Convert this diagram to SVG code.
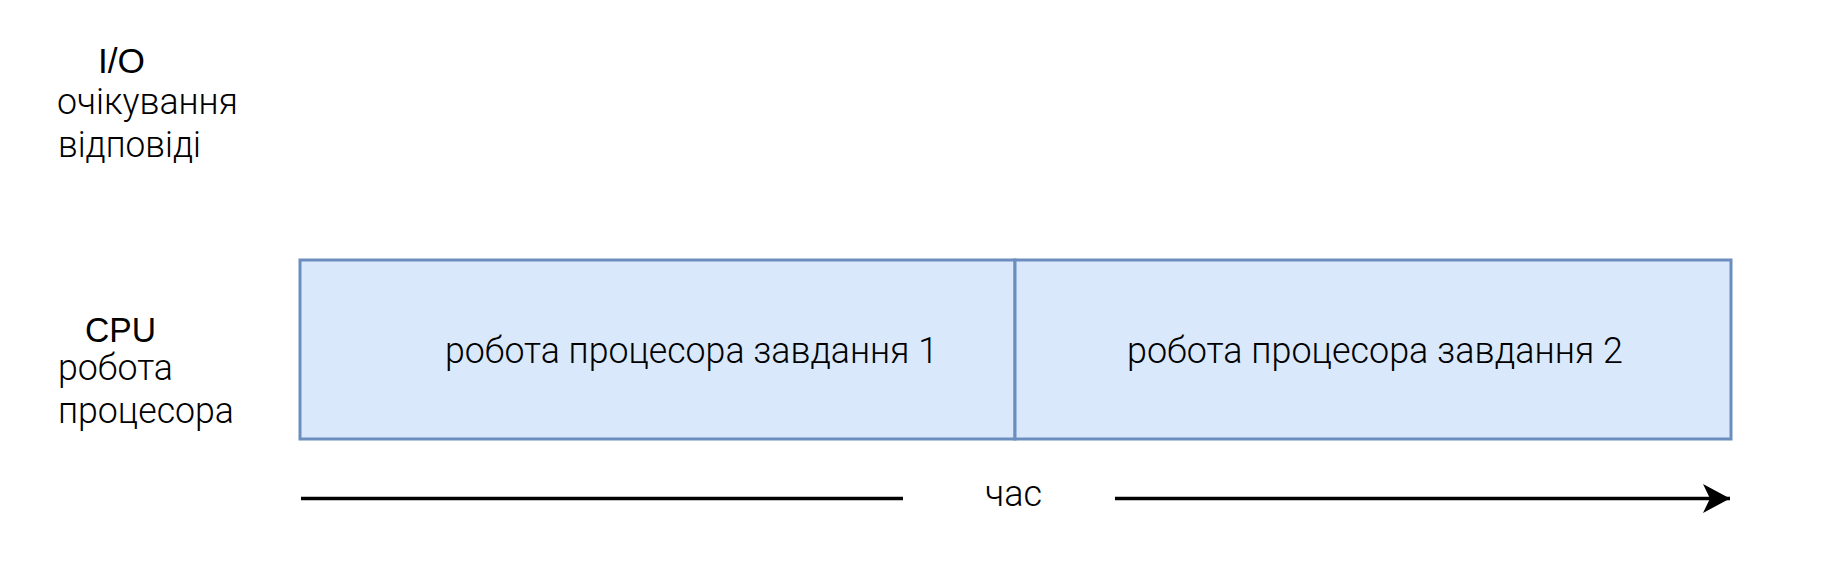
<svg xmlns="http://www.w3.org/2000/svg" width="1822" height="569" viewBox="0 0 1822 569">
<style>
.hdr{font-family:"Liberation Sans",Arial,sans-serif;font-size:35px;fill:#000}
.lbl{font-family:Roboto,"Liberation Sans",sans-serif;font-weight:300;font-size:37px;fill:#000}
.box{fill:#dae8fc;stroke:#6c8ebf;stroke-width:3}
.axis{stroke:#000;stroke-width:3.5;fill:none}
</style>
<defs>
<marker id="arr" markerUnits="userSpaceOnUse" markerWidth="30" markerHeight="32" refX="27" refY="14.5" orient="auto">
<path d="M0,0 L27,14.5 L0,29 L7,14.5 Z" fill="#000"/>
</marker>
</defs>
<rect width="1822" height="569" fill="#fff"/>
<g id="label-io">
<text class="hdr" x="98" y="73" textLength="47" lengthAdjust="spacingAndGlyphs">I/O</text>
<text class="lbl" x="57" y="114" textLength="181" lengthAdjust="spacingAndGlyphs">очікування</text>
<text class="lbl" x="58" y="157" textLength="143" lengthAdjust="spacingAndGlyphs">відповіді</text>
</g>
<g id="label-cpu">
<text class="hdr" x="85" y="342" textLength="71" lengthAdjust="spacingAndGlyphs">CPU</text>
<text class="lbl" x="58" y="380" textLength="115" lengthAdjust="spacingAndGlyphs">робота</text>
<text class="lbl" x="58" y="423" textLength="176" lengthAdjust="spacingAndGlyphs">процесора</text>
</g>
<g id="task1">
<rect class="box" x="300" y="260" width="715" height="179"/>
<text class="lbl" x="445" y="363" textLength="493" lengthAdjust="spacingAndGlyphs">робота процесора завдання 1</text>
</g>
<g id="task2">
<rect class="box" x="1015" y="260" width="716" height="179"/>
<text class="lbl" x="1127" y="363" textLength="496" lengthAdjust="spacingAndGlyphs">робота процесора завдання 2</text>
</g>
<g id="time-label">
<text class="lbl" x="985" y="506" textLength="57" lengthAdjust="spacingAndGlyphs">час</text>
</g>
<g id="connectors">
<line class="axis" x1="301" y1="498.5" x2="903" y2="498.5"/>
<line class="axis" x1="1115" y1="498.5" x2="1730" y2="498.5" marker-end="url(#arr)"/>
</g>
</svg>
